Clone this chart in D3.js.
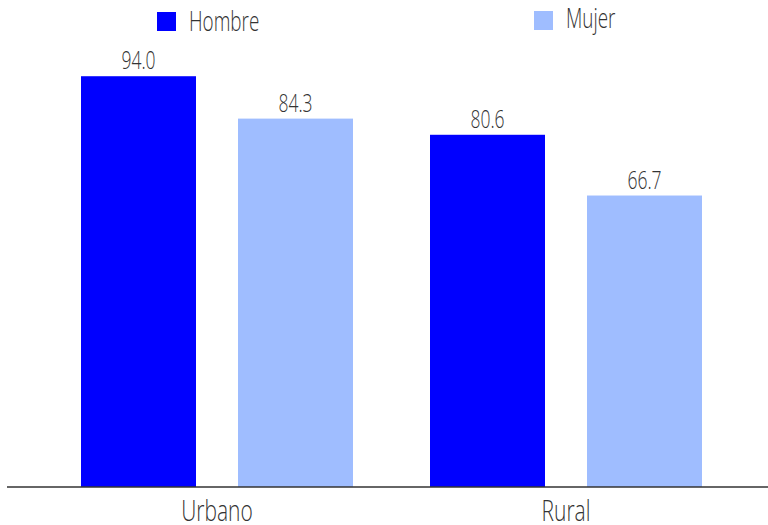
<!DOCTYPE html>
<html><head><meta charset="utf-8">
<script src="https://cdn.jsdelivr.net/npm/d3@7"></script>
<style>body{margin:0;background:#fff}svg text{font-family:"Open Sans",sans-serif;font-weight:300;fill:#333}</style>
</head><body><svg id="c" width="768" height="525"></svg>
<script>
const categories = ["Urbano", "Rural"];
const seriesNames = ["Hombre", "Mujer"];
const hombre = [94.0, 80.6];
const mujer = [84.3, 66.7];
const colors = ["#0000ff", "#9fbdff"];

const values = [hombre, mujer];
const svg = d3.select("#c");
const SX = 0.7;

const x0 = d3.scaleBand().domain(categories).range([42.5, 740.5]).padding(0);
const x1 = d3.scaleBand().domain(seriesNames).range([0, 272]).paddingInner(42/157).paddingOuter(0);
const y = d3.scaleLinear().domain([0, 100]).range([487, 50]);

function txt(g, x, yy, s, size) {
  return g.append("text").attr("transform", `translate(${x},${yy}) scale(${SX},1)`)
    .attr("text-anchor", "middle").attr("font-size", size).text(s);
}

categories.forEach((c, i) => {
  const gx = x0(c) + x0.bandwidth()/2 - 136;
  seriesNames.forEach((s, j) => {
    const v = values[j][i];
    svg.append("rect").attr("x", gx + x1(s)).attr("y", y(v))
      .attr("width", x1.bandwidth()).attr("height", y(0) - y(v)).attr("fill", colors[j]);
    txt(svg, gx + x1(s) + x1.bandwidth()/2, y(v) - 7, v.toFixed(1), 25);
  });
});

// axis
const ax = svg.append("g").attr("transform", `translate(0,${y(0)})`)
  .call(d3.axisBottom(x0).tickSize(0).tickFormat(""));
ax.select(".domain").attr("d", "M7,0H768").attr("stroke", "#333").attr("stroke-width", 1.6);
categories.forEach(c => txt(svg, x0(c) + x0.bandwidth()/2, 521, c, 30));

// legend
const legendPos = [{sx:157, sy:12, tx:189, ty:31}, {sx:534, sy:11, tx:566, ty:28}];
seriesNames.forEach((s, j) => {
  const p = legendPos[j];
  svg.append("rect").attr("x", p.sx).attr("y", p.sy).attr("width", 19).attr("height", 19).attr("fill", colors[j]);
  svg.append("text").attr("transform", `translate(${p.tx},${p.ty}) scale(${SX},1)`)
    .attr("font-size", 27).text(s);
});
</script></body></html>
